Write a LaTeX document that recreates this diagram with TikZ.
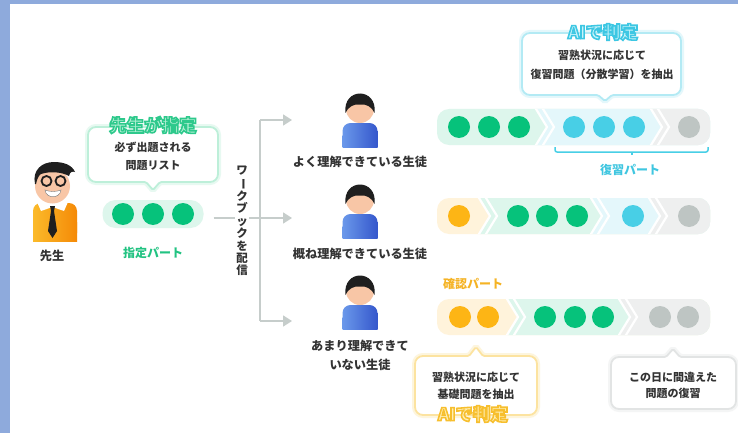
\documentclass[tikz,border=0pt]{standalone}
\usepackage{fontspec}
\setmainfont{Noto Sans CJK JP}
\newfontfamily\rimfont{Noto Sans CJK JP}[FakeBold=9]
\usetikzlibrary{arrows.meta,calc}

\definecolor{frame}{HTML}{8EAADC}
\definecolor{ink}{HTML}{333333}
\definecolor{gdot}{HTML}{06C27B}
\definecolor{gbg}{HTML}{DDF6EC}
\definecolor{cdot}{HTML}{48CFE6}
\definecolor{cbg}{HTML}{E4F7FB}
\definecolor{kdot}{HTML}{BEC5C3}
\definecolor{kbg}{HTML}{EEEFEF}
\definecolor{ydot}{HTML}{FDB515}
\definecolor{ybg}{HTML}{FFF3DB}
\definecolor{wire}{HTML}{C6CDCB}
\definecolor{gline}{HTML}{BDEFD9}
\definecolor{cline}{HTML}{B3EAF4}
\definecolor{yline}{HTML}{FCE3A0}
\definecolor{kline}{HTML}{E2E4E4}
\definecolor{gfill}{HTML}{B4F0D4}
\definecolor{cfill}{HTML}{C8F3FA}
\definecolor{yfill}{HTML}{FFEFB5}
\definecolor{gtext}{HTML}{22C382}
\definecolor{ctext}{HTML}{3FC6E0}
\definecolor{ytext}{HTML}{F5B324}
\definecolor{skin}{HTML}{F8C6A6}
\definecolor{hair}{HTML}{1F1F1F}
\definecolor{vestL}{HTML}{FBBA2A}
\definecolor{vestR}{HTML}{F58A07}
\definecolor{shirtL}{HTML}{6A98EA}
\definecolor{shirtR}{HTML}{3557CC}

\tikzset{
  wire/.style={draw=wire, line width=1.6pt},
  wirearrow/.style={wire, -{Triangle[length=9pt,width=11pt]}},
  ball/.style={circle, fill=#1, minimum size=22pt, inner sep=0pt},
  nametext/.style={font=\bfseries\fontsize{12.2}{19}\selectfont, text=ink, align=center, inner sep=0pt},
  bubbletext/.style={font=\bfseries\fontsize{11}{#1}\selectfont, text=ink, align=center, inner sep=0pt},
  bubbletext/.default=18,
  parttext/.style={font=\bfseries\fontsize{12}{14}\selectfont, text=#1, inner sep=0pt},
  headline/.style={font=\rimfont\bfseries\fontsize{17.5}{20}\selectfont, inner sep=0pt},
  balloon/.style={fill=white, draw=#1, line width=1.8pt,
    preaction={draw=#1, line width=6pt, draw opacity=0.35}},
}

% outlined heading: pale face #3, rim given as an rgb triple #4
\newcommand\rimtitle[5]{%
  \node[headline, text=#3] (#1) at (#2) {\special{pdf:code #4 RG}#5};}

% region of a progress bar that starts at a chevron tip #2 on row centre #3
\newcommand\segfrom[3]{%
  \fill[#1] (#2-11,#3-20) -- (#2,#3) -- (#2-11,#3+20) -- (720,#3+20) -- (720,#3-20) -- cycle;}

% double white chevron at tip #1 on row centre #2
\newcommand\twochev[2]{%
  \foreach \o in {0,7}{\draw[white, line width=2.2pt] (#1+\o-12.5,#2-20.5) -- (#1+\o,#2) -- (#1+\o-12.5,#2+20.5);}}

\begin{document}
\begin{tikzpicture}[x=1pt,y=-1pt]
\fill[frame] (0,0) rectangle (738,433);
\fill[white] (10,4) rectangle (738,433);
\useasboundingbox (0,0) rectangle (738,433);

% ---------- teacher ----------
\shade[left color=vestL, right color=vestR, rounded corners=8pt] (33,203) rectangle (77,241);
\shade[left color=vestL, right color=vestR] (33,222) rectangle (77,241);
\fill[white] (37,202) -- (68,202) -- (64,211) -- (52.5,207) -- (41,211) -- cycle;
\fill[hair] (50,206) -- (55,206) -- (54,211) -- (51,211) -- cycle;
\fill[hair] (51,211) -- (54,211) -- (57,231) -- (52.5,238) -- (48,231) -- cycle;
\fill[skin] (52.5,186) circle (17.5);
\fill[hair] (35,184) .. controls (32,170) and (42,162) .. (54,162)
  .. controls (64,162) and (72,165) .. (75,172)
  .. controls (72,171) and (70,172) .. (69,176)
  .. controls (62,172) and (50,171) .. (41,174)
  .. controls (38,176) and (37,180) .. (36,184) -- cycle;
\draw[hair, line width=1.8pt] (46.5,181) circle (5) (60.5,181) circle (5);
\fill[white, draw=hair!60, line width=0.4pt] (45,190) .. controls (46,199) and (60,199) .. (61,190)
  .. controls (56,192) and (50,192) .. (45,190) -- cycle;
\node[nametext] (teacher) at (52,256) {先生};

% ---------- teacher's set ----------
\path[balloon=gline] (153,190) [rounded corners=1.5pt] -- (146,182) [rounded corners=8pt] -- (88,182)
  -- (88,127) -- (218,127) -- (218,182) [rounded corners=1.5pt] -- (160,182) -- cycle;
\rimtitle{settitle}{153,125}{gfill}{0.18 0.79 0.55}{先生が指定}
\node[bubbletext] (setnote) at (153,156) {必ず出題される\\問題リスト};

\node[fill=gbg, rounded corners=13pt, minimum width=101pt, minimum height=28pt, inner sep=0pt] (pill) at (153,214) {};
\node[ball=gdot] (p1) at (123,214) {};
\node[ball=gdot] (p2) at (153,214) {};
\node[ball=gdot] (p3) at (183,214) {};
\node[parttext=gtext] (setpart) at (153,253) {指定パート};

% ---------- distribution ----------
\coordinate (split) at (260,218);
\coordinate (top) at (260,120);
\coordinate (bot) at (260,321);
\coordinate (t1) at (292,120);
\coordinate (t2) at (292,218);
\coordinate (t3) at (292,321);
\draw[wire, shorten <=10pt] (pill.east |- split) -- (split);
\draw[wire] (top) -- (bot);
\draw[wirearrow] (top) -- (t1);
\draw[wirearrow] (split) -- (t2);
\draw[wirearrow] (bot) -- (t3);
\node[fill=white, inner sep=1pt, font=\bfseries\fontsize{11.5}{12.4}\selectfont, text=ink, align=center]
  (deliver) at (242,221) {ワ\\\rotatebox[origin=c]{-90}{ー}\\ク\\ブ\\ッ\\ク\\を\\配\\信};

% ---------- students ----------
\foreach \dy in {0,91,182}{
  \begin{scope}[shift={(360,109+\dy)}]
    \shade[left color=shirtL, right color=shirtR, rounded corners=8pt] (-17.5,14) rectangle (17.5,38);
    \shade[left color=shirtL, right color=shirtR] (-17.5,26) rectangle (17.5,38);
    \fill[skin] (0,0) circle (14);
    \fill[hair] (-14.6,4) .. controls (-16,-9) and (-8,-15.5) .. (0,-15.5)
      .. controls (8,-15.5) and (16,-9) .. (14.6,4)
      .. controls (12,-2) and (6,-5.5) .. (0,-4.5)
      .. controls (-6,-5.5) and (-12,-2) .. (-14.6,4) -- cycle;
  \end{scope}
}
\node[nametext] (s1) at (360,162) {よく理解できている生徒};
\node[nametext] (s2) at (360,254) {概ね理解できている生徒};
\node[nametext] (s3) at (360,355) {あまり理解できて\\いない生徒};

% ---------- row 1 ----------
\begin{scope}
  \clip[rounded corners=12pt] (437,109) rectangle (710,145);
  \fill[gbg] (430,100) rectangle (720,150);
  \segfrom{cbg}{547}{127}
  \segfrom{kbg}{662}{127}
  \twochev{547}{127}
  \twochev{662}{127}
\end{scope}
\foreach \x/\c [count=\i] in {459/gdot,489/gdot,519/gdot,574/cdot,604/cdot,634/cdot,689/kdot}
  \node[ball=\c] (ra\i) at (\x,127) {};
\draw[cdot, line width=1.5pt, rounded corners=2pt] (555,147) -- (555,152) -- (708,152) -- (708,147);
\draw[cdot, line width=1.5pt] (632,152) -- (632,155);
\node[parttext=ctext] (reviewpart) at (630,170) {復習パート};

\path[balloon=cline] (605,101) [rounded corners=1.5pt] -- (598,95) [rounded corners=8pt] -- (522,95)
  -- (522,33) -- (681,33) -- (681,95) [rounded corners=1.5pt] -- (612,95) -- cycle;
\rimtitle{aitop}{603,32}{cfill}{0.24 0.78 0.89}{AIで判定}
\node[bubbletext=19] (aitopnote) at (602,64.5) {習熟状況に応じて\\復習問題（分散学習）を抽出};

% ---------- row 2 ----------
\begin{scope}
  \clip[rounded corners=12pt] (437,198) rectangle (710,234);
  \fill[ybg] (430,190) rectangle (720,240);
  \segfrom{gbg}{490}{216}
  \segfrom{cbg}{602}{216}
  \segfrom{kbg}{660}{216}
  \twochev{490}{216}
  \twochev{602}{216}
  \twochev{660}{216}
\end{scope}
\foreach \x/\c [count=\i] in {459/ydot,518/gdot,547/gdot,577/gdot,633/cdot,689/kdot}
  \node[ball=\c] (rb\i) at (\x,216) {};

% ---------- row 3 ----------
\begin{scope}
  \clip[rounded corners=12pt] (437,299) rectangle (710,335);
  \fill[ybg] (430,290) rectangle (720,340);
  \segfrom{gbg}{518}{317}
  \segfrom{kbg}{630}{317}
  \twochev{518}{317}
  \twochev{630}{317}
\end{scope}
\foreach \x/\c [count=\i] in {460/ydot,488/ydot,545/gdot,575/gdot,603/gdot,660/kdot,688/kdot}
  \node[ball=\c] (rc\i) at (\x,317) {};
\node[parttext=ytext] (checkpart) at (473,284) {確認パート};

\path[balloon=yline] (476,347) [rounded corners=1.5pt] -- (483,356) [rounded corners=8pt] -- (537,356)
  -- (537,415) -- (415,415) -- (415,356) [rounded corners=1.5pt] -- (469,356) -- cycle;
\node[bubbletext=17] (aibotnote) at (476,386) {習熟状況に応じて\\基礎問題を抽出};
\rimtitle{aibot}{473,414}{yfill}{0.97 0.75 0.18}{AIで判定}

\path[balloon=kline] (673,349) [rounded corners=1.5pt] -- (680,357) [rounded corners=8pt] -- (736,357)
  -- (736,409) -- (611,409) -- (611,357) [rounded corners=1.5pt] -- (666,357) -- cycle;
\node[bubbletext=16.5] (mistakenote) at (673,385.5) {この日に間違えた\\問題の復習};

\end{tikzpicture}
\end{document}
